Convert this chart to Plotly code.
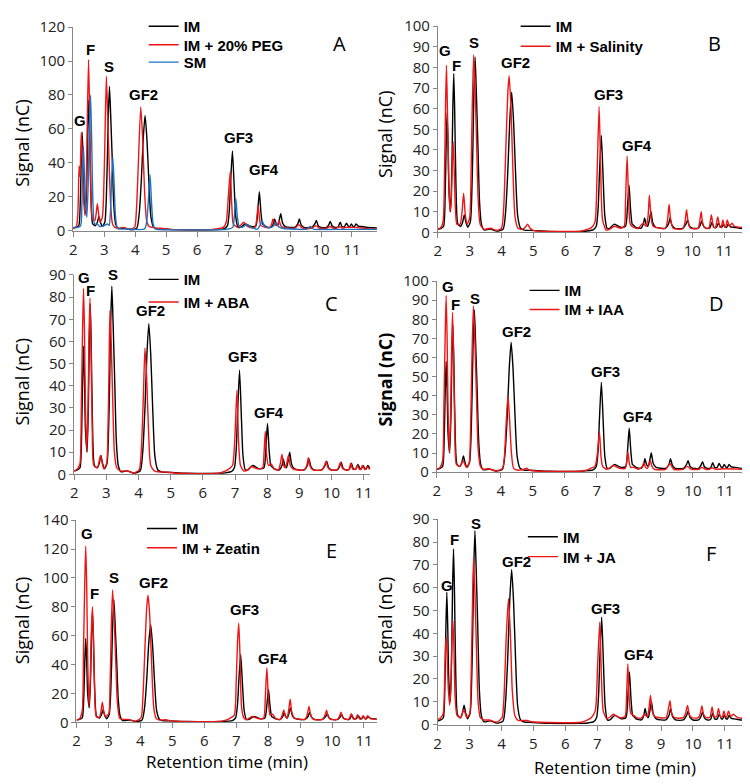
import plotly.graph_objects as go

W, H = 750, 784

RED = '#f01515'
BLUE = '#1c72c2'
AXIS = '#868686'

# IM control chromatogram (same run overlaid in every panel)
IM_T = [2.00, 2.10, 2.18, 2.23, 2.26, 2.29, 2.32, 2.35, 2.40, 2.44, 2.47, 2.50, 2.53, 2.57, 2.63,
        2.72, 2.78, 2.83, 2.88, 2.94, 3.02, 3.06, 3.10, 3.13, 3.17, 3.21, 3.26, 3.31, 3.37, 3.45,
        3.65, 3.85, 4.05, 4.13, 4.20, 4.26, 4.32, 4.38, 4.44, 4.51, 4.60, 4.75, 4.90, 5.50, 6.50,
        6.75, 6.88, 6.98, 7.04, 7.08, 7.14, 7.20, 7.25, 7.32, 7.40, 7.55, 7.75, 7.90, 7.96, 8.01,
        8.06, 8.11, 8.15, 8.22, 8.38, 8.46, 8.50, 8.55, 8.60, 8.65, 8.70, 8.76, 8.85, 9.15, 9.25,
        9.30, 9.36, 9.45, 9.70, 9.80, 9.85, 9.91, 10.00, 10.18, 10.25, 10.30, 10.36, 10.45, 10.55,
        10.62, 10.68, 10.76, 10.82, 10.89, 10.93, 10.98, 11.04, 11.08, 11.13, 11.20, 11.30, 11.45,
        11.65, 11.90]
IM_S = [1.5, 2.0, 3.0, 18, 42, 58, 42, 20, 10, 30, 60, 77, 58, 22, 4,
        3, 5, 8.5, 5, 2.5, 5, 15, 40, 66, 85, 68, 42, 15, 4, 1.2,
        1.6, 0.6, 1.5, 10, 30, 54, 68, 54, 30, 8, 2, 1.0, 1.0, 0.5, 0.5,
        0.8, 1.2, 3, 12, 28, 47, 25, 8, 2, 2, 4, 2.5, 3, 12, 23,
        11, 4, 3.5, 2.5, 2, 4, 7, 4, 3, 6, 10, 4.5, 2.5, 2, 4,
        7, 3.5, 2, 2, 4, 6, 3, 2, 2, 3.5, 5.5, 2.8, 2, 2.2,
        5, 2.5, 2.5, 4.5, 2.5, 2.5, 4, 2.5, 2.5, 4, 2.7, 2.5, 2.1,
        1.8, 1.5]

# IM + 20% PEG
PEG_T = [2.00, 2.10, 2.15, 2.19, 2.22, 2.26, 2.30, 2.34, 2.38, 2.42, 2.45, 2.495, 2.53, 2.57, 2.62,
         2.70, 2.74, 2.78, 2.82, 2.87, 2.94, 2.98, 3.02, 3.07, 3.11, 3.16, 3.21, 3.27, 3.35, 3.45,
         3.60, 3.80, 3.98, 4.04, 4.10, 4.18, 4.24, 4.30, 4.37, 4.45, 4.55, 4.70, 4.85, 5.10, 6.50,
         6.75, 6.85, 6.94, 7.00, 7.07, 7.12, 7.17, 7.30, 7.42, 7.50, 7.60, 7.70, 7.87, 7.93, 7.97,
         8.01, 8.06, 8.20, 8.35, 8.41, 8.45, 8.50, 8.56, 8.61, 8.65, 8.70, 8.78, 9.15, 9.28, 9.40,
         9.70, 9.83, 9.95, 10.18, 10.28, 10.40, 10.50, 10.60, 10.70, 10.80, 11.10, 11.50, 11.90]
PEG_S = [1.5, 2.5, 10, 38, 32, 58, 40, 18, 9, 25, 60, 101, 70, 25, 7,
         6, 10, 16, 10, 5, 8, 20, 50, 91, 70, 40, 15, 4, 2, 1.5,
         2, 1, 2, 12, 38, 73, 55, 25, 6, 2.5, 2, 1.5, 1.5, 0.8, 0.8,
         1.5, 2, 5, 18, 35, 15, 4, 2, 3.5, 5, 3, 2, 2, 8, 15,
         8, 3, 2, 2, 4, 7, 4, 3, 4, 6, 3, 2, 1.5, 3.5, 1.5,
         1.5, 3, 1.5, 1.5, 2.5, 1.5, 1.5, 2.5, 1.5, 2, 2, 1.2, 1.0]

# SM
SM_T = [2.00, 2.15, 2.24, 2.28, 2.30, 2.33, 2.36, 2.40, 2.44, 2.48, 2.52, 2.56, 2.60, 2.64, 2.69,
        2.78, 2.85, 3.00, 3.10, 3.16, 3.20, 3.24, 3.28, 3.32, 3.36, 3.42, 3.55, 3.75, 4.30, 4.37,
        4.42, 4.48, 4.53, 4.58, 4.65, 4.80, 6.80, 7.00, 7.15, 7.20, 7.25, 7.30, 7.36, 7.45, 7.60,
        7.80, 7.95, 8.05, 8.10, 8.16, 8.25, 8.40, 8.50, 8.55, 8.62, 8.75, 9.00, 9.55, 9.65, 9.75,
        10.50, 11.90]
SM_S = [2, 2, 3, 15, 30, 50, 35, 15, 8, 25, 60, 80, 50, 15, 4,
        4, 2.5, 3, 4, 3, 10, 30, 43, 28, 10, 2, 1, 1, 1, 5,
        16, 33, 16, 4, 1, 0.6, 0.6, 1, 2, 8, 19, 8, 2.5, 2, 3.5,
        1.5, 1, 4, 6, 3, 2, 2, 3.5, 5, 2.5, 1.5, 1, 1, 2.5, 1,
        0.8, 0.8]

# IM + Salinity
SAL_T = [2.00, 2.10, 2.17, 2.21, 2.24, 2.27, 2.30, 2.34, 2.38, 2.42, 2.45, 2.48, 2.51, 2.55, 2.60,
         2.70, 2.76, 2.81, 2.86, 2.92, 3.00, 3.04, 3.08, 3.125, 3.17, 3.22, 3.27, 3.33, 3.45, 3.65,
         3.85, 4.00, 4.07, 4.14, 4.20, 4.24, 4.30, 4.36, 4.43, 4.52, 4.65, 4.75, 4.82, 4.90, 5.00,
         5.20, 6.50, 6.70, 6.82, 6.94, 7.00, 7.07, 7.12, 7.18, 7.30, 7.45, 7.55, 7.75, 7.86, 7.90,
         7.95, 8.00, 8.05, 8.15, 8.30, 8.45, 8.55, 8.61, 8.65, 8.70, 8.77, 9.15, 9.22, 9.27, 9.32,
         9.40, 9.70, 9.77, 9.82, 9.87, 9.95, 10.18, 10.23, 10.28, 10.33, 10.42, 10.52, 10.60, 10.67,
         10.73, 10.80, 10.87, 10.91, 10.96, 11.02, 11.05, 11.10, 11.17, 11.25, 11.32, 11.50, 11.90]
SAL_S = [1.5, 2.5, 6, 30, 60, 81, 60, 28, 10, 15, 32, 44, 32, 12, 4,
         4, 10, 19, 9, 4, 7, 25, 60, 86, 70, 42, 15, 4, 1.5, 2,
         1, 2, 12, 42, 68, 76, 60, 30, 7, 2, 1.5, 2.5, 4, 2, 1,
         0.6, 0.6, 1.5, 2.2, 5, 25, 61, 30, 6, 1, 2, 3, 2, 3, 15,
         37, 15, 4, 2.5, 2, 4.5, 3, 8, 18, 8, 3, 2, 6, 13.5, 6,
         2, 1.8, 5, 11, 5, 2, 2, 5, 10, 4, 2, 2, 8.5, 2.5,
         2.5, 7.5, 2.5, 2.5, 6, 2.5, 2.5, 6, 3, 4.5, 3, 2.5, 1.8]

# IM + ABA
ABA_T = [2.00, 2.10, 2.18, 2.22, 2.26, 2.29, 2.32, 2.35, 2.39, 2.43, 2.46, 2.49, 2.52, 2.56, 2.61,
         2.72, 2.82, 2.92, 3.01, 3.05, 3.08, 3.11, 3.15, 3.20, 3.25, 3.32, 3.45, 3.65, 3.85, 4.02,
         4.09, 4.15, 4.20, 4.25, 4.31, 4.38, 4.50, 4.85, 5.20, 6.50, 6.65, 6.77, 6.92, 6.99, 7.06,
         7.11, 7.17, 7.28, 7.40, 7.50, 7.70, 7.86, 7.90, 7.94, 7.98, 8.04, 8.12, 8.22, 8.35, 8.41,
         8.46, 8.51, 8.56, 8.61, 8.66, 8.72, 8.80, 9.15, 9.23, 9.28, 9.34, 9.42, 9.70, 9.78, 9.83,
         9.89, 9.96, 10.17, 10.23, 10.28, 10.34, 10.45, 10.54, 10.60, 10.66, 10.75, 10.80, 10.87,
         10.92, 10.96, 11.03, 11.06, 11.10, 11.18, 11.30]
ABA_S = [1.5, 2.5, 5, 30, 65, 84, 65, 30, 10.7, 30, 62, 79.6, 60, 22, 4,
         3, 8.5, 2.5, 5, 20, 45, 74, 60, 32, 10, 3, 1.5, 1.5, 0.6, 2,
         12, 35, 57, 45, 20, 4, 1.5, 1, 0.5, 0.5, 1.2, 2, 4, 15, 38,
         15, 4, 1.5, 2, 3.5, 2.5, 3, 9, 19.4, 9, 4, 4.7, 2.5, 2, 5,
         9, 4, 3, 5, 8.5, 4, 2.5, 2, 4, 7.5, 3.5, 2, 2, 4, 6,
         3, 2, 2, 3.5, 5.5, 2.8, 2, 2.2, 5, 2.3, 2.3, 4, 2.3,
         2.3, 4, 2.3, 2.3, 3.5, 2.5, 2.5]

# IM + IAA
IAA_T = [2.00, 2.10, 2.18, 2.22, 2.26, 2.29, 2.32, 2.35, 2.39, 2.43, 2.46, 2.49, 2.52, 2.56, 2.61,
         2.72, 2.82, 2.92, 3.01, 3.05, 3.09, 3.14, 3.19, 3.24, 3.29, 3.36, 3.45, 3.62, 3.85, 4.05,
         4.11, 4.16, 4.22, 4.27, 4.33, 4.40, 4.55, 4.72, 4.80, 4.90, 5.20, 6.50, 6.70, 6.80, 6.94,
         7.01, 7.08, 7.13, 7.18, 7.30, 7.42, 7.50, 7.70, 7.88, 7.93, 7.97, 8.01, 8.06, 8.15, 8.30,
         8.42, 8.47, 8.52, 8.58, 8.63, 8.67, 8.72, 8.80, 9.15, 9.28, 9.40, 9.70, 9.83, 9.94, 10.18,
         10.28, 10.40, 10.52, 10.60, 10.70, 11.00, 11.50, 11.90]
IAA_S = [1.5, 2.5, 6, 35, 72, 92.5, 70, 32, 10.4, 30, 65, 83.7, 62, 22, 4,
         3, 6, 2.5, 5, 20, 55, 87, 68, 38, 12, 3, 1.5, 1.8, 0.6, 2,
         8, 24, 40, 28, 10, 2, 1, 1.5, 2, 1, 0.5, 0.5, 1.2, 2, 3,
         9, 21, 8, 3, 1.5, 2.5, 3.5, 2, 2, 5, 10.5, 5, 2.5, 2.5, 1.5,
         3, 5, 2.5, 2, 4, 6, 3, 1.5, 1.5, 4.5, 1.5, 1.5, 3, 1.5, 1.5,
         2.5, 1.5, 1.5, 2.3, 1.5, 1.8, 1.5, 1.3]

# IM + Zeatin
ZEA_T = [2.00, 2.10, 2.18, 2.22, 2.26, 2.29, 2.32, 2.35, 2.39, 2.43, 2.47, 2.50, 2.53, 2.57, 2.62,
         2.72, 2.77, 2.81, 2.85, 2.91, 3.01, 3.05, 3.09, 3.13, 3.18, 3.23, 3.28, 3.35, 3.45, 3.62,
         3.85, 4.02, 4.08, 4.15, 4.20, 4.24, 4.29, 4.35, 4.42, 4.50, 4.60, 4.80, 4.95, 5.20, 6.50,
         6.68, 6.80, 6.94, 7.00, 7.04, 7.08, 7.12, 7.17, 7.24, 7.32, 7.42, 7.50, 7.70, 7.86, 7.91,
         7.96, 8.01, 8.06, 8.14, 8.24, 8.38, 8.44, 8.49, 8.54, 8.59, 8.64, 8.69, 8.74, 8.82, 9.15,
         9.22, 9.28, 9.33, 9.42, 9.70, 9.77, 9.83, 9.88, 9.96, 10.17, 10.23, 10.28, 10.34, 10.44,
         10.53, 10.60, 10.66, 10.74, 10.80, 10.86, 10.92, 10.97, 11.03, 11.06, 11.11, 11.20, 11.42]
ZEA_S = [1.5, 2.5, 8, 50, 98, 122, 95, 45, 11, 28, 65, 80, 60, 22, 4,
         3.5, 8, 14, 8, 4, 6, 25, 65, 91.6, 72, 42, 14, 3, 2, 2,
         0.8, 3, 18, 55, 80, 88, 75, 42, 10, 2.5, 1.5, 1.8, 1, 0.6, 0.6,
         1.5, 2.7, 5, 28, 55, 68.6, 45, 10, 3, 1.8, 3, 4, 2.5, 3, 17,
         37.6, 15, 5, 5.6, 2.5, 2, 5, 8.5, 4, 3, 8, 16, 7, 3, 2,
         5, 11, 5, 2, 2, 4.5, 8.3, 4, 2, 2, 4, 7, 3, 2,
         2.2, 6, 2.5, 2.5, 5.3, 2.4, 2.4, 4.5, 2.4, 2.4, 4.5, 2.5, 2.2]

# IM + JA
JA_T = [2.00, 2.10, 2.18, 2.22, 2.25, 2.27, 2.30, 2.34, 2.38, 2.42, 2.45, 2.48, 2.51, 2.55, 2.61,
        2.72, 2.82, 2.92, 3.01, 3.05, 3.09, 3.125, 3.17, 3.22, 3.27, 3.34, 3.45, 3.62, 3.85, 4.02,
        4.08, 4.15, 4.22, 4.28, 4.34, 4.42, 4.52, 4.80, 4.95, 5.20, 6.50, 6.70, 6.82, 6.94, 7.01,
        7.08, 7.13, 7.19, 7.30, 7.42, 7.50, 7.70, 7.87, 7.92, 7.96, 8.00, 8.05, 8.14, 8.24, 8.38,
        8.48, 8.57, 8.62, 8.67, 8.72, 8.80, 9.15, 9.22, 9.28, 9.33, 9.42, 9.70, 9.77, 9.83, 9.88,
        9.96, 10.17, 10.23, 10.28, 10.33, 10.42, 10.53, 10.60, 10.66, 10.74, 10.80, 10.86, 10.92,
        10.97, 11.02, 11.06, 11.11, 11.18, 11.26, 11.40, 11.90]
JA_S = [2, 3, 5, 20, 34, 38.5, 30, 15, 8.5, 18, 38, 45.6, 35, 12, 4,
        3, 6.5, 3, 5, 20, 50, 73, 58, 32, 10, 3, 2, 2, 1, 3,
        12, 38, 55.3, 40, 15, 4, 1.8, 1.8, 1.2, 1, 1, 2, 3.1, 6, 25,
        44.9, 22, 6, 2.5, 3.5, 4.5, 3, 3.5, 13, 26.6, 12, 5, 4, 3, 2.8,
        4.5, 3.5, 7, 12.8, 6, 3.5, 3, 6, 10.5, 5, 3, 3, 5, 8.4, 4.5,
        3, 3, 5, 8.1, 4.5, 3, 3.2, 7.7, 3.5, 3.4, 7, 3.4, 3.4,
        6, 3.4, 3.4, 6, 3.5, 4.5, 3, 2.5]

PEAKS = ['G', 'F', 'S', 'GF2', 'GF3', 'GF4']

# label anchor (time, signal) for each peak name, per panel
LBL_A = [(2.21, 65), (2.55, 107), (3.14, 97), (4.27, 80), (7.34, 55), (8.17, 36)]
LBL_B = [(2.23, 88), (2.59, 81), (3.14, 92), (4.45, 82.5), (7.38, 67), (8.26, 42)]
LBL_C = [(2.31, 89), (2.51, 83), (3.20, 90), (4.38, 74), (7.23, 53), (8.06, 28)]
LBL_D = [(2.34, 97), (2.59, 88), (3.20, 91), (4.48, 73.5), (7.27, 52.7), (8.28, 29)]
LBL_E = [(2.34, 131), (2.55, 89), (3.19, 100), (4.41, 97), (7.26, 78), (8.14, 44)]
LBL_F = [(2.29, 61), (2.52, 81), (3.19, 88), (4.46, 71.5), (7.25, 51), (8.32, 30.5)]

# pixel boxes: (left, right, top, bottom); legend: text x and row centres
panels = [
    dict(letter='A', box=(61.7, 367.7, 8.3, 217.3), xmax=11.8, ymax=120, dtick=20,
         series=[('IM', IM_T, IM_S, 'black'), ('IM + 20% PEG', PEG_T, PEG_S, RED), ('SM', SM_T, SM_S, BLUE)],
         labels=LBL_A, leg=(182.7, [25, 43.5, 61]), let=(330, 25), ytl=(10, 127)),
    dict(letter='B', box=(429.3, 746.7, 7.3, 219.0), xmax=11.9, ymax=100, dtick=10,
         series=[('IM', IM_T, IM_S, 'black'), ('IM + Salinity', SAL_T, SAL_S, RED)],
         labels=LBL_B, leg=(557.7, [25, 45]), let=(707.7, 25), ytl=(376, 118)),
    dict(letter='C', box=(62.7, 361.0, 262.7, 467.3), xmax=11.2, ymax=90, dtick=10,
         series=[('IM', IM_T, IM_S, 'black'), ('IM + ABA', ABA_T, ABA_S, RED)],
         labels=LBL_C, leg=(182.7, [279, 301.7]), let=(321.7, 291.7), ytl=(10, 372)),
    dict(letter='D', box=(428.3, 747.7, 269.0, 465.0), xmax=11.9, ymax=100, dtick=10,
         series=[('IM', IM_T, IM_S, 'black'), ('IM + IAA', IAA_T, IAA_S, RED)],
         labels=LBL_D, leg=(566.7, [290, 309.3]), let=(710, 291.7), ytl=(376, 370), bold=True),
    dict(letter='E', box=(65.0, 367.7, 514.3, 721.7), xmax=11.4, ymax=140, dtick=20,
         series=[('IM', IM_T, IM_S, 'black'), ('IM + Zeatin', ZEA_T, ZEA_S, RED)],
         labels=LBL_E, leg=(181, [529, 548.3]), let=(321.7, 545), ytl=(10, 617), xtl=(216.7, 762)),
    dict(letter='F', box=(429.0, 746.0, 513.3, 724.0), xmax=11.85, ymax=90, dtick=10,
         series=[('IM', IM_T, IM_S, 'black'), ('IM + JA', JA_T, JA_S, RED)],
         labels=LBL_F, leg=(565, [537.3, 557.3]), let=(704.3, 548.3), ytl=(376, 617), xtl=(608, 768)),
]

TICKFONT = dict(family='Open Sans', size=15, color='#222')
LEGFONT = dict(family='Liberation Sans', size=15, color='black', weight='bold')

fig = go.Figure()
layout = dict(width=W, height=H, margin=dict(l=0, r=0, t=0, b=0),
              paper_bgcolor='white', plot_bgcolor='white', showlegend=True)
annotations = []
n_leg = 0

for i, p in enumerate(panels, start=1):
    sfx = '' if i == 1 else str(i)
    left, right, top, bottom = p['box']
    text_x, rows = p['leg']
    # one legend per entry so each row sits where the original has it
    for (name, t, s, col), row in zip(p['series'], rows):
        n_leg += 1
        leg_key = 'legend' if n_leg == 1 else 'legend%d' % n_leg
        fig.add_trace(go.Scatter(x=t, y=s, name=name, mode='lines',
                                 line=dict(color=col, width=1.4, shape='spline', smoothing=0.6),
                                 xaxis='x' + sfx, yaxis='y' + sfx, legend=leg_key))
        top_px = (row - 34) / 0.978
        layout[leg_key] = dict(x=(text_x - 50) / W, y=1 - top_px / H, xanchor='left', yanchor='top',
                               bgcolor='rgba(0,0,0,0)', borderwidth=0, font=LEGFONT)
    layout['xaxis' + sfx] = dict(domain=[left / W, right / W], anchor='y' + sfx,
                                 range=[2, p['xmax']], dtick=1, tick0=2,
                                 showline=True, linecolor=AXIS, linewidth=1,
                                 ticks='outside', ticklen=5, tickcolor=AXIS,
                                 showgrid=False, zeroline=False, tickfont=TICKFONT)
    layout['yaxis' + sfx] = dict(domain=[1 - bottom / H, 1 - top / H], anchor='x' + sfx,
                                 range=[0, p['ymax']], dtick=p['dtick'],
                                 showline=True, linecolor=AXIS, linewidth=1,
                                 ticks='outside', ticklen=4, tickcolor=AXIS,
                                 showgrid=False, zeroline=False, tickfont=TICKFONT)
    for name, (tx, sy) in zip(PEAKS, p['labels']):
        annotations.append(dict(x=tx, y=sy, xref='x' + sfx, yref='y' + sfx, text=name,
                                showarrow=False, xanchor='center', yanchor='middle',
                                font=dict(family='Liberation Sans', size=15, color='black', weight='bold')))
    annotations.append(dict(x=p['let'][0] / W, y=1 - p['let'][1] / H, xref='paper', yref='paper',
                            text=p['letter'], showarrow=False, xanchor='center', yanchor='middle',
                            font=dict(family='Open Sans', size=20, color='black')))
    annotations.append(dict(x=p['ytl'][0] / W, y=1 - p['ytl'][1] / H, xref='paper', yref='paper',
                            text='Signal (nC)', textangle=-90, showarrow=False,
                            xanchor='center', yanchor='middle',
                            font=dict(family='Open Sans', size=18, color='black',
                                      weight='bold' if p.get('bold') else 'normal')))
    if 'xtl' in p:
        annotations.append(dict(x=p['xtl'][0] / W, y=1 - p['xtl'][1] / H, xref='paper', yref='paper',
                                text='Retention time (min)', showarrow=False,
                                xanchor='center', yanchor='middle',
                                font=dict(family='Open Sans', size=17, color='black')))

layout['annotations'] = annotations
fig.update_layout(**layout)
fig.write_html("out.html")
